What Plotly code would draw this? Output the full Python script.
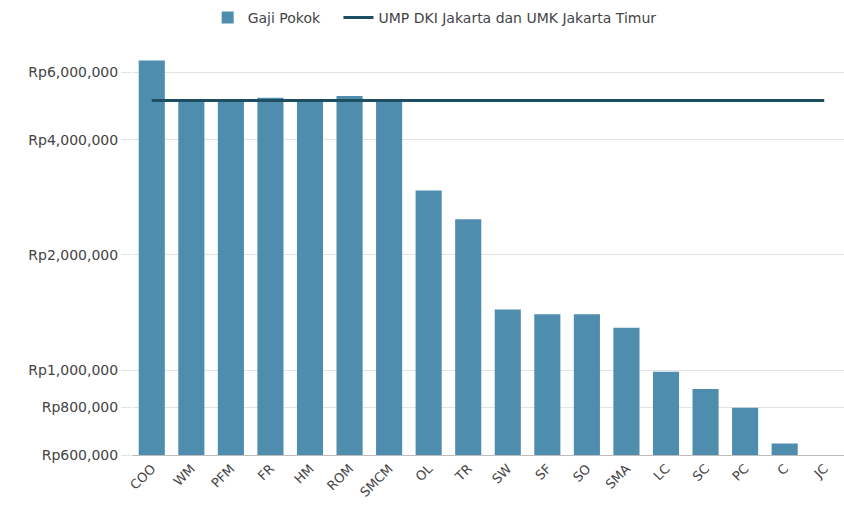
import plotly.graph_objects as go
import math

categories = ["COO", "WM", "PFM", "FR", "HM", "ROM", "SMCM", "OL", "TR", "SW",
              "SF", "SO", "SMA", "LC", "SC", "PC", "C", "JC"]
gaji_pokok = [6450000, 5067381, 5067381, 5150000, 5067381, 5210000, 5067381, 2950000, 2480000,
              1440000, 1400000, 1400000, 1290000, 990000, 893000, 797000, 643000, 500000]
ump = [5067381] * len(categories)
tick_values = [600000, 800000, 1000000, 2000000, 4000000, 6000000]
tick_labels = ["Rp600,000", "Rp800,000", "Rp1,000,000", "Rp2,000,000", "Rp4,000,000", "Rp6,000,000"]

fig = go.Figure()
fig.add_trace(go.Bar(x=categories, y=gaji_pokok, name="Gaji Pokok\u00a0\u00a0\u00a0",
                     marker=dict(color="#4F8DAF", line=dict(width=0))))
fig.add_trace(go.Scatter(x=categories, y=ump, mode="lines",
                         name="UMP DKI Jakarta dan UMK Jakarta Timur",
                         line=dict(color="#1D4E62", width=3)))

fig.update_layout(
    width=844, height=509,
    margin=dict(l=132, r=0, t=45, b=54),
    paper_bgcolor="white", plot_bgcolor="white",
    font=dict(family="DejaVu Sans, Arial, sans-serif", size=13, color="#444444"),
    bargap=0.34,
    showlegend=True,
    legend=dict(orientation="h", xref="container", yref="container",
                x=0.515, xanchor="center", y=0.965, yanchor="middle",
                font=dict(size=14, color="#444444"), traceorder="normal",
                itemwidth=30),
)
fig.update_yaxes(type="log", range=[math.log10(600000), 6.85],
                 tickvals=tick_values, ticktext=tick_labels,
                 showgrid=True, gridcolor="#E3E3E3", gridwidth=1,
                 ticks="outside", ticklen=10, tickcolor="#E3E3E3",
                 zeroline=False, showline=False,
                 tickfont=dict(size=14, color="#444444"))
fig.update_xaxes(tickangle=-45, showline=True, linecolor="#BDBDBD", linewidth=1,
                 range=[-0.5, 17.5],
                 tickfont=dict(size=13, color="#444444"))

fig.write_html("out.html")
